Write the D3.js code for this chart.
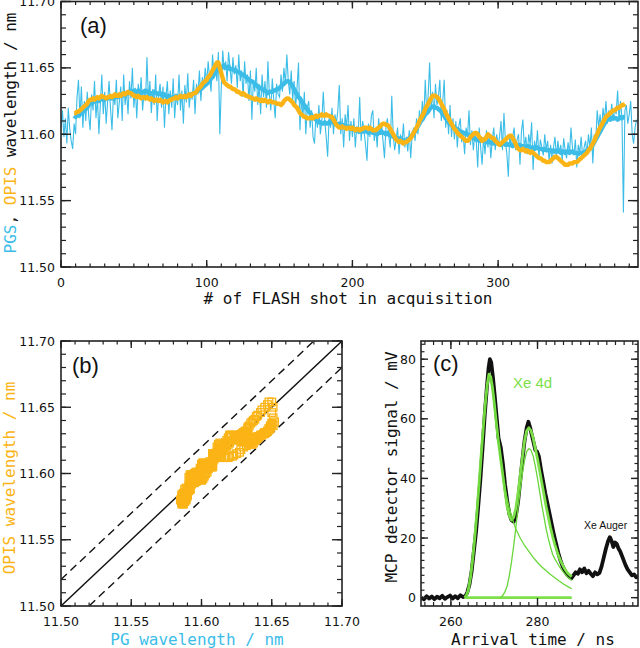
<!DOCTYPE html>
<html><head><meta charset="utf-8">
<script src="https://cdn.jsdelivr.net/npm/d3@7"></script>
<style>html,body{margin:0;padding:0;background:#fff;}svg{display:block;}</style>
</head><body>
<svg id="fig" width="640" height="648"></svg>
<script>
// ---------------- DATA ----------------
// Panel (a): raw PGS wavelength, one value per FLASH shot (0..395)
const pgsRaw = [
11.605,11.618,11.598,11.612,11.593,11.620,11.604,11.595,11.589,11.608,
11.600,11.628,11.641,11.612,11.636,11.605,11.625,11.610,11.632,11.614,
11.603,11.630,11.618,11.640,11.612,11.628,11.600,11.622,11.645,11.615,
11.632,11.608,11.625,11.640,11.619,11.603,11.630,11.622,11.641,11.612,
11.624,11.636,11.610,11.645,11.622,11.633,11.615,11.640,11.627,11.650,
11.620,11.635,11.612,11.638,11.628,11.643,11.618,11.632,11.625,11.658,
11.625,11.640,11.616,11.634,11.622,11.645,11.610,11.630,11.638,11.620,
11.636,11.605,11.628,11.640,11.615,11.633,11.620,11.642,11.612,11.630,
11.622,11.645,11.618,11.633,11.608,11.637,11.624,11.646,11.620,11.632,
11.626,11.641,11.615,11.638,11.630,11.648,11.625,11.643,11.636,11.650,
11.638,11.655,11.642,11.632,11.660,11.645,11.652,11.640,11.662,11.600,
11.635,11.663,11.648,11.655,11.640,11.662,11.650,11.638,11.658,11.645,
11.652,11.635,11.660,11.640,11.648,11.628,11.655,11.638,11.645,11.625,
11.648,11.611,11.640,11.632,11.650,11.622,11.638,11.615,11.645,11.628,
11.640,11.620,11.655,11.630,11.618,11.642,11.626,11.612,11.638,11.630,
11.628,11.645,11.632,11.650,11.638,11.660,11.640,11.630,11.648,11.625,
11.640,11.620,11.635,11.654,11.603,11.628,11.612,11.632,11.600,11.620,
11.625,11.605,11.618,11.598,11.593,11.615,11.605,11.622,11.600,11.610,
11.632,11.610,11.598,11.583,11.612,11.605,11.620,11.600,11.615,11.608,
11.618,11.637,11.600,11.612,11.590,11.615,11.605,11.622,11.595,11.610,
11.598,11.612,11.590,11.606,11.600,11.628,11.595,11.610,11.603,11.592,
11.580,11.608,11.598,11.614,11.618,11.595,11.605,11.590,11.612,11.600,
11.608,11.595,11.582,11.605,11.612,11.598,11.590,11.629,11.600,11.588,
11.596,11.605,11.585,11.600,11.592,11.608,11.590,11.598,11.587,11.603,
11.582,11.600,11.605,11.595,11.612,11.600,11.618,11.608,11.625,11.612,
11.641,11.615,11.630,11.654,11.620,11.632,11.612,11.638,11.622,11.628,
11.641,11.610,11.625,11.641,11.605,11.618,11.600,11.622,11.598,11.612,
11.596,11.610,11.590,11.606,11.612,11.594,11.600,11.585,11.605,11.598,
11.618,11.592,11.603,11.588,11.600,11.595,11.575,11.605,11.590,11.577,
11.598,11.585,11.603,11.590,11.600,11.582,11.596,11.605,11.588,11.600,
11.592,11.598,11.610,11.588,11.616,11.595,11.585,11.568,11.600,11.590,
11.598,11.605,11.588,11.596,11.600,11.577,11.602,11.611,11.590,11.598,
11.585,11.600,11.592,11.609,11.573,11.595,11.588,11.603,11.582,11.596,
11.590,11.584,11.600,11.588,11.595,11.580,11.592,11.578,11.590,11.598,
11.583,11.595,11.586,11.592,11.580,11.597,11.588,11.582,11.594,11.585,
11.605,11.590,11.584,11.596,11.575,11.592,11.586,11.598,11.582,11.590,
11.595,11.585,11.600,11.590,11.605,11.578,11.600,11.595,11.618,11.605,
11.615,11.602,11.620,11.610,11.625,11.608,11.618,11.612,11.623,11.610,
11.620,11.615,11.633,11.610,11.625,11.612,11.541,11.618,11.622,11.608,
11.615,11.625,11.600,11.593,11.605,11.611
];
// Smoothed series, one value per shot from shot 9 to shot 387
const smoothStart = 9;
const pgsSmooth = [
11.614,11.613,11.614,11.614,11.615,11.616,11.617,11.618,11.619,11.620,11.622,
11.623,11.624,11.624,11.625,11.625,11.626,11.625,11.626,11.627,11.626,
11.626,11.627,11.627,11.627,11.628,11.627,11.628,11.629,11.628,11.628,
11.629,11.629,11.629,11.630,11.631,11.630,11.631,11.632,11.631,11.632,
11.633,11.632,11.632,11.633,11.632,11.631,11.632,11.632,11.633,11.632,
11.631,11.630,11.631,11.631,11.632,11.631,11.631,11.630,11.631,11.630,
11.629,11.630,11.629,11.628,11.629,11.628,11.627,11.628,11.628,11.629,
11.628,11.628,11.627,11.628,11.628,11.629,11.628,11.629,11.630,11.629,
11.630,11.631,11.631,11.632,11.633,11.633,11.634,11.635,11.636,11.637,
11.638,11.639,11.640,11.642,11.643,11.645,11.647,11.648,11.650,11.651,
11.650,11.651,11.652,11.650,11.650,11.651,11.649,11.649,11.649,11.648,
11.648,11.647,11.647,11.646,11.645,11.645,11.644,11.643,11.642,11.641,
11.640,11.640,11.639,11.638,11.637,11.636,11.635,11.635,11.634,11.633,
11.633,11.632,11.631,11.632,11.632,11.632,11.633,11.633,11.634,11.634,
11.635,11.636,11.637,11.638,11.639,11.640,11.640,11.639,11.638,11.636,
11.634,11.632,11.630,11.628,11.627,11.625,11.623,11.622,11.620,11.619,
11.617,11.616,11.614,11.613,11.612,11.611,11.610,11.609,11.609,11.608,
11.608,11.609,11.608,11.608,11.609,11.610,11.609,11.609,11.608,11.608,
11.607,11.608,11.607,11.606,11.607,11.606,11.605,11.606,11.605,11.604,
11.605,11.604,11.603,11.604,11.603,11.602,11.603,11.602,11.602,11.603,
11.602,11.601,11.602,11.602,11.601,11.602,11.601,11.600,11.601,11.601,
11.602,11.601,11.601,11.600,11.601,11.600,11.599,11.599,11.598,11.598,
11.597,11.597,11.596,11.597,11.596,11.595,11.595,11.595,11.596,11.597,
11.598,11.599,11.601,11.602,11.604,11.606,11.608,11.610,11.611,11.613,
11.615,11.616,11.617,11.619,11.620,11.621,11.621,11.620,11.620,11.619,
11.618,11.617,11.615,11.614,11.612,11.611,11.609,11.608,11.607,11.606,
11.605,11.604,11.604,11.603,11.602,11.602,11.601,11.601,11.600,11.600,
11.599,11.599,11.598,11.597,11.597,11.596,11.596,11.595,11.595,11.595,
11.596,11.595,11.594,11.595,11.594,11.594,11.593,11.594,11.593,11.594,
11.593,11.593,11.592,11.593,11.593,11.592,11.593,11.592,11.592,11.592,
11.591,11.592,11.592,11.591,11.592,11.592,11.591,11.591,11.591,11.590,
11.591,11.591,11.590,11.590,11.590,11.589,11.590,11.590,11.589,11.589,
11.589,11.588,11.589,11.588,11.588,11.588,11.588,11.587,11.588,11.587,
11.587,11.588,11.587,11.586,11.587,11.587,11.586,11.587,11.587,11.586,
11.587,11.587,11.586,11.586,11.586,11.585,11.586,11.586,11.586,11.586,
11.587,11.588,11.588,11.589,11.591,11.592,11.594,11.596,11.598,11.600,
11.602,11.604,11.606,11.608,11.610,11.611,11.612,11.611,11.612,11.613,
11.612,11.612,11.611,11.612,11.613,11.612,11.613,11.613];
const opisSmooth = [
11.616,11.616,11.617,11.617,11.618,11.619,11.620,11.621,11.622,11.623,11.625,
11.626,11.626,11.627,11.626,11.627,11.628,11.627,11.628,11.629,11.628,
11.628,11.627,11.628,11.628,11.629,11.628,11.629,11.630,11.629,11.629,
11.630,11.629,11.630,11.631,11.630,11.631,11.632,11.631,11.631,11.630,
11.629,11.629,11.628,11.629,11.628,11.627,11.628,11.628,11.627,11.628,
11.627,11.626,11.627,11.626,11.625,11.626,11.626,11.625,11.626,11.625,
11.624,11.625,11.625,11.624,11.625,11.626,11.626,11.627,11.627,11.628,
11.627,11.628,11.629,11.628,11.628,11.629,11.628,11.629,11.630,11.629,
11.630,11.631,11.631,11.632,11.634,11.635,11.636,11.638,11.639,11.640,
11.641,11.643,11.644,11.646,11.648,11.650,11.652,11.654,11.654,11.650,
11.646,11.642,11.639,11.638,11.637,11.636,11.636,11.635,11.634,11.634,
11.633,11.632,11.632,11.631,11.630,11.631,11.630,11.629,11.629,11.628,
11.628,11.627,11.627,11.626,11.627,11.626,11.626,11.625,11.626,11.625,
11.626,11.625,11.624,11.625,11.625,11.624,11.624,11.624,11.623,11.623,
11.623,11.622,11.623,11.625,11.626,11.627,11.627,11.626,11.625,11.624,
11.622,11.621,11.620,11.618,11.616,11.615,11.614,11.613,11.613,11.612,
11.612,11.612,11.613,11.612,11.613,11.614,11.613,11.614,11.614,11.615,
11.614,11.614,11.615,11.614,11.614,11.613,11.613,11.611,11.609,11.607,
11.606,11.605,11.605,11.606,11.605,11.605,11.604,11.605,11.605,11.604,
11.605,11.604,11.603,11.604,11.604,11.603,11.604,11.604,11.605,11.605,
11.605,11.604,11.605,11.604,11.603,11.603,11.603,11.604,11.605,11.606,
11.607,11.608,11.608,11.607,11.607,11.606,11.604,11.602,11.600,11.598,
11.596,11.595,11.594,11.595,11.594,11.593,11.594,11.594,11.595,11.596,
11.597,11.599,11.601,11.603,11.605,11.607,11.610,11.612,11.614,11.616,
11.619,11.621,11.623,11.625,11.627,11.629,11.629,11.629,11.628,11.627,
11.625,11.623,11.621,11.619,11.616,11.614,11.612,11.610,11.608,11.606,
11.604,11.603,11.601,11.600,11.599,11.598,11.597,11.596,11.595,11.595,
11.596,11.598,11.599,11.600,11.601,11.601,11.600,11.598,11.597,11.595,
11.596,11.596,11.598,11.600,11.599,11.598,11.597,11.597,11.595,11.594,
11.593,11.592,11.593,11.594,11.595,11.596,11.597,11.598,11.599,11.599,
11.597,11.595,11.593,11.590,11.589,11.588,11.588,11.589,11.588,11.587,
11.588,11.587,11.586,11.587,11.586,11.585,11.584,11.583,11.582,11.582,
11.581,11.580,11.580,11.579,11.579,11.579,11.580,11.581,11.582,11.583,
11.583,11.582,11.581,11.580,11.579,11.578,11.577,11.577,11.577,11.578,
11.578,11.578,11.579,11.579,11.579,11.580,11.581,11.582,11.583,11.584,
11.585,11.586,11.588,11.589,11.591,11.593,11.595,11.598,11.600,11.603,
11.605,11.607,11.609,11.611,11.613,11.614,11.615,11.616,11.617,11.618,
11.618,11.619,11.620,11.620,11.621,11.622,11.622,11.623];
const aXTicks = [0,100,200,300];
const aYTicks = [11.50,11.55,11.60,11.65,11.70];

// Panel (b)
const bTicks = [11.50,11.55,11.60,11.65,11.70];
const bOffsets = [0, 0.02, -0.02];

// Panel (c): MCP signal
const sigTime = [253.2,253.8,254.4,255.0,255.6,256.2,256.8,257.4,258.0,258.6,259.2,259.8,260.4,261.0,261.6,262.2,262.8,263.4,263.8,264.3,264.8,265.3,265.8,266.3,266.8,267.3,267.8,268.3,268.7,269.0,269.3,269.7,270.1,270.6,271.0,271.5,272.0,272.5,273.0,273.5,274.0,274.5,275.0,275.5,276.0,276.5,277.0,277.5,277.9,278.3,278.7,279.1,279.5,279.9,280.3,280.8,281.3,281.8,282.3,282.8,283.3,283.8,284.3,284.8,285.3,285.8,286.3,286.8,287.3,287.8,288.3,288.8,289.3,289.8,290.3,290.8,291.3,291.8,292.3,292.8,293.3,293.8,294.3,294.8,295.3,295.8,296.3,296.7,297.1,297.5,297.9,298.3,298.7,299.1,299.5,299.9,300.3,300.8,301.3,301.8,302.3,302.8,303.2];
const sigMV = [0.0,-0.6,0.5,-0.3,0.4,-0.5,0.3,-0.2,0.6,-0.4,0.2,0.7,-0.3,0.5,-0.2,0.8,0.2,0.6,1.8,4.5,9.0,15.5,22.0,30.5,39.5,50.0,61.0,70.5,77.0,80.0,79.0,74.0,68.0,60.0,53.5,50.5,45.0,38.0,32.5,28.0,26.0,25.5,27.5,32.0,39.0,46.0,52.5,57.0,59.0,57.0,54.5,52.0,49.5,49.0,47.5,43.0,39.0,35.0,31.5,28.0,24.5,21.0,18.0,15.0,12.5,10.5,9.0,7.8,7.0,6.5,7.5,8.5,8.0,9.5,8.5,9.8,8.2,9.0,8.0,7.2,8.5,7.8,8.3,10.5,13.5,16.5,19.0,20.3,19.0,17.0,18.5,18.0,16.5,15.5,14.0,12.5,11.0,9.5,8.5,7.5,7.8,6.8,7.0];
const fitTime = [263.2,263.6,264.0,264.5,265.0,265.5,266.0,266.5,267.0,267.5,268.0,268.4,268.8,269.2,269.6,270.0,270.5,271.0,271.5,272.0,272.5,273.0,273.5,274.0,274.5,275.0,275.5,276.0,276.5,277.0,277.5,278.0,278.5,279.0,279.5,280.0,280.5,281.0,281.5,282.0,282.5,283.0,283.5,284.0,284.5,285.0,285.5,286.0,286.5,287.0,287.9];
const fitTotal = [0,0.8,2.5,6.5,12.5,20.0,28.5,38.0,48.0,57.5,66.0,71.5,75.0,74.0,70.5,65.5,58.5,52.0,46.5,41.0,35.5,30.5,27.5,26.0,27.0,30.0,35.0,41.0,47.0,52.5,56.0,57.0,56.0,53.5,50.0,46.5,42.5,38.5,34.5,30.5,27.0,23.5,20.5,17.8,15.5,13.5,11.8,10.4,9.2,8.2,7.0];
const comp1Time = [263.2,263.6,264.0,264.5,265.0,265.5,266.0,266.5,267.0,267.5,268.0,268.4,268.8,269.2,269.6,270.0,270.5,271.0,271.5,272.0,272.5,273.0,273.5,274.0,274.5,275.0,275.5,276.0,277.0,278.0,279.0,280.0,281.0,282.0,283.0,284.0,285.0,286.0,287.0,287.9];
const comp1MV = [0,0.8,2.5,6.5,12.5,20.0,28.5,38.0,48.0,57.5,65.5,71.0,74.0,73.0,69.5,64.5,58.0,52.0,46.0,41.0,36.5,33.0,30.0,27.5,25.0,23.0,21.5,20.0,17.5,15.5,13.5,11.8,10.3,9.0,7.8,6.7,5.6,4.6,3.7,3.0];
const comp2Time = [271.5,272.0,272.5,273.0,273.5,274.0,274.5,275.0,275.5,276.0,276.5,277.0,277.5,278.0,278.5,279.0,279.5,280.0,280.5,281.0,281.5,282.0,282.5,283.0,283.5,284.0,284.5,285.0,285.5,286.0,286.5,287.0,287.9];
const comp2MV = [0,0.8,2.0,4.0,7.5,12.0,17.5,23.5,30.0,36.0,41.5,46.0,49.0,50.0,49.5,47.5,44.0,40.0,35.5,31.0,27.0,23.0,19.8,17.0,14.5,13.0,11.8,10.6,9.5,8.5,7.6,6.8,5.8];
const baseTime = [263.2, 287.9];
const baseMV = [0, 0];
const cXTicks = [260,280];
const cYTicks = [0,20,40,60,80];

// ---------------- DRAWING ----------------
const CYAN = "#3cbde8", ORANGE = "#fbb416", GREEN = "#7de04a", GREEN2 = "#69d63a";
const svg = d3.select("#fig");
const tickFont = "'DejaVu Sans', Verdana, sans-serif";
const monoFont = "'DejaVu Sans Mono', monospace";
const helv = "'Liberation Sans', Arial, sans-serif";

function frame(x, y, o) {
  const g = svg.append("g");
  const [x0, x1] = x.range(), [y0, y1] = y.range(); // y0 bottom, y1 top
  const d = x.domain(), e = y.domain();
  const inX = v => v >= Math.min(...d) - 1e-9 && v <= Math.max(...d) + 1e-9;
  const inY = v => v >= Math.min(...e) - 1e-9 && v <= Math.max(...e) + 1e-9;
  const tk = (xa, ya, xb, yb, w) => g.append("line").attr("x1", xa).attr("y1", ya).attr("x2", xb).attr("y2", yb)
      .attr("stroke", "#222").attr("stroke-width", w);
  o.xMinor.filter(inX).forEach(v => { const p = x(v); tk(p, y0, p, y0 - o.xmn, 1.2); tk(p, y1, p, y1 + o.xmn, 1.2); });
  o.xMajor.filter(inX).forEach(v => { const p = x(v); tk(p, y0, p, y0 - o.xmj, 1.4); tk(p, y1, p, y1 + o.xmj, 1.4); });
  o.yMinor.filter(inY).forEach(v => { const p = y(v); tk(x0, p, x0 + o.ymn, p, 1.2); tk(x1, p, x1 - o.ymn, p, 1.2); });
  o.yMajor.filter(inY).forEach(v => { const p = y(v); tk(x0, p, x0 + o.ymj, p, 1.4); tk(x1, p, x1 - o.ymj, p, 1.4); });
  g.append("rect").attr("x", x0).attr("y", y1).attr("width", x1 - x0).attr("height", y0 - y1)
    .attr("fill", "none").attr("stroke", "#222").attr("stroke-width", 1.6);
  o.xMajor.forEach((v, i) => {
    const lab = o.xLabels ? o.xLabels[i] : String(v);
    g.append("text").attr("x", x(v)).attr("y", y0 + 20).attr("text-anchor", "middle")
      .attr("font-family", tickFont).attr("font-size", 12.5).attr("fill", "#111").text(lab);
  });
  o.yMajor.forEach((v, i) => {
    const lab = o.yLabels ? o.yLabels[i] : String(v);
    g.append("text").attr("x", x0 - (o.yGap || 6)).attr("y", y(v) + 4.5).attr("text-anchor", "end")
      .attr("font-family", tickFont).attr("font-size", 12.5).attr("fill", "#111").text(lab);
  });
  return g;
}
function clip(id, x, y) {
  const [x0, x1] = x.range(), [y0, y1] = y.range();
  svg.append("clipPath").attr("id", id).append("rect").attr("x", x0).attr("y", y1)
    .attr("width", x1 - x0).attr("height", y0 - y1);
}

// ----- Panel (a) -----
const aX = d3.scaleLinear().domain([0, 396]).range([61, 638]);
const aY = d3.scaleLinear().domain([11.50, 11.70]).range([267, 1.5]);
clip("ca", aX, aY);
const ga = svg.append("g").attr("clip-path", "url(#ca)");
ga.append("path").datum(pgsRaw).attr("fill", "none").attr("stroke", CYAN).attr("stroke-width", 1.1)
  .attr("d", d3.line().x((d, i) => aX(i)).y(d => aY(d)));
ga.append("path").datum(pgsSmooth).attr("fill", "none").attr("stroke", CYAN).attr("stroke-width", 4.4)
  .attr("stroke-linejoin", "round").attr("d", d3.line().x((d, i) => aX(smoothStart + i)).y(d => aY(d)));
ga.append("path").datum(opisSmooth).attr("fill", "none").attr("stroke", ORANGE).attr("stroke-width", 4.4)
  .attr("stroke-linejoin", "round").attr("d", d3.line().x((d, i) => aX(smoothStart + i)).y(d => aY(d)));
frame(aX, aY, {
  xMajor: aXTicks, xMinor: d3.range(0, 400, 10), xmj: 7, xmn: 3.5,
  yMajor: aYTicks, yMinor: d3.range(0, 21).map(k => 11.50 + k * 0.01), ymj: 10, ymn: 5,
  yLabels: aYTicks.map(v => v.toFixed(2))
});
svg.append("text").attr("x", 80).attr("y", 33).attr("font-family", helv).attr("font-size", 22).attr("fill", "#111").text("(a)");
svg.append("text").attr("x", 348).attr("y", 304).attr("text-anchor", "middle").attr("font-family", monoFont)
  .attr("font-size", 16).attr("fill", "#111").text("# of FLASH shot in acquisition");
{
  const t = svg.append("text").attr("transform", "translate(16,133) rotate(-90)").attr("text-anchor", "middle")
    .attr("font-family", monoFont).attr("font-size", 16).attr("fill", "#111");
  t.append("tspan").attr("fill", CYAN).text("PGS");
  t.append("tspan").text(", ");
  t.append("tspan").attr("fill", ORANGE).text("OPIS");
  t.append("tspan").text(" wavelength / nm");
}

// ----- Panel (b) -----
const bX = d3.scaleLinear().domain([11.50, 11.70]).range([61, 342]);
const bY = d3.scaleLinear().domain([11.50, 11.70]).range([606, 341]);
clip("cb", bX, bY);
const gb = svg.append("g").attr("clip-path", "url(#cb)");
bOffsets.forEach(off => {
  gb.append("line").attr("x1", bX(11.50)).attr("y1", bY(11.50 + off)).attr("x2", bX(11.70)).attr("y2", bY(11.70 + off))
    .attr("stroke", "#111").attr("stroke-width", 1.4).attr("stroke-dasharray", off === 0 ? null : "8,5");
});
gb.selectAll("rect.pt").data(pgsSmooth.map((v, i) => [v, opisSmooth[i]])).enter().append("rect")
  .attr("x", d => bX(d[0]) - 3.8).attr("y", d => bY(d[1]) - 3.8).attr("width", 7.6).attr("height", 7.6)
  .attr("fill", "none").attr("stroke", ORANGE).attr("stroke-width", 1.3);
frame(bX, bY, {
  xMajor: bTicks, xMinor: d3.range(0, 21).map(k => 11.50 + k * 0.01), xmj: 7, xmn: 3.5,
  yMajor: bTicks, yMinor: d3.range(0, 21).map(k => 11.50 + k * 0.01), ymj: 10, ymn: 5,
  xLabels: bTicks.map(v => v.toFixed(2)), yLabels: bTicks.map(v => v.toFixed(2))
});
svg.append("text").attr("x", 72).attr("y", 373).attr("font-family", helv).attr("font-size", 22).attr("fill", "#111").text("(b)");
svg.append("text").attr("x", 197).attr("y", 645).attr("text-anchor", "middle").attr("font-family", monoFont)
  .attr("font-size", 16).attr("fill", CYAN).text("PG wavelength / nm");
svg.append("text").attr("transform", "translate(15,478) rotate(-90)").attr("text-anchor", "middle").attr("font-family", monoFont)
  .attr("font-size", 16).attr("fill", ORANGE).text("OPIS wavelength / nm");

// ----- Panel (c) -----
const cX = d3.scaleLinear().domain([253.1, 303.2]).range([421, 638]);
const cY = d3.scaleLinear().domain([-2.8, 86.1]).range([606, 341]);
clip("cc", cX, cY);
const gc = svg.append("g").attr("clip-path", "url(#cc)");
const lc = (tt) => d3.line().x((d, i) => cX(tt[i])).y(d => cY(d));
gc.append("path").datum(sigMV).attr("fill", "none").attr("stroke", "#111").attr("stroke-width", 3.8)
  .attr("stroke-linejoin", "round").attr("d", lc(sigTime));
gc.append("path").datum(baseMV).attr("fill", "none").attr("stroke", GREEN).attr("stroke-width", 2.6).attr("d", lc(baseTime));
gc.append("path").datum(fitTotal).attr("fill", "none").attr("stroke", GREEN).attr("stroke-width", 2.8)
  .attr("stroke-linejoin", "round").attr("d", lc(fitTime));
gc.append("path").datum(comp1MV).attr("fill", "none").attr("stroke", GREEN2).attr("stroke-width", 1.3).attr("d", lc(comp1Time));
gc.append("path").datum(comp2MV).attr("fill", "none").attr("stroke", GREEN2).attr("stroke-width", 1.3).attr("d", lc(comp2Time));
frame(cX, cY, {
  xMajor: cXTicks, xMinor: d3.range(254, 304, 2), xmj: 8, xmn: 4,
  yMajor: cYTicks, yMinor: d3.range(0, 35).map(k => k * 2.5), ymj: 7, ymn: 3.5, yGap: 5
});
svg.append("text").attr("x", 433).attr("y", 371).attr("font-family", helv).attr("font-size", 22).attr("fill", "#111").text("(c)");
svg.append("text").attr("x", 513).attr("y", 388).attr("font-family", helv).attr("font-size", 15).attr("fill", GREEN).text("Xe 4d");
svg.append("text").attr("x", 584).attr("y", 529).attr("font-family", helv).attr("font-size", 10.5).attr("fill", "#111").text("Xe Auger");
svg.append("text").attr("x", 533).attr("y", 645).attr("text-anchor", "middle").attr("font-family", monoFont)
  .attr("font-size", 16).attr("fill", "#111").text("Arrival time / ns");
svg.append("text").attr("transform", "translate(397,467) rotate(-90)").attr("text-anchor", "middle").attr("font-family", monoFont)
  .attr("font-size", 16).attr("fill", "#111").text("MCP detector signal / mV");
</script>
</body></html>
